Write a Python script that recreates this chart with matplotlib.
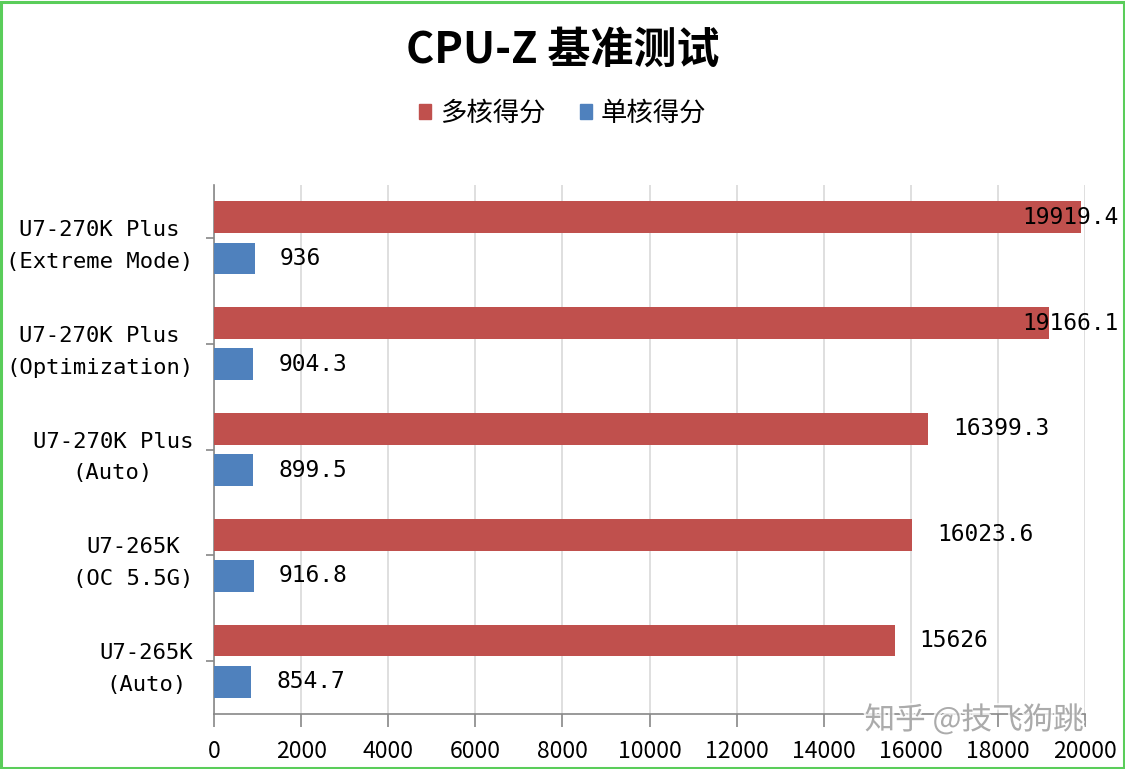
import matplotlib
matplotlib.use("Agg")
import matplotlib.pyplot as plt
import matplotlib.patheffects as pe
from matplotlib.patches import Patch, Rectangle
import numpy as np

categories = ["U7-270K Plus\n(Extreme Mode)", "U7-270K Plus\n(Optimization)",
              "U7-270K Plus\n(Auto)", "U7-265K\n(OC 5.5G)", "U7-265K\n(Auto)"]
multi_core = [19919.4, 19166.1, 16399.3, 16023.6, 15626]
single_core = [936, 904.3, 899.5, 916.8, 854.7]
multi_labels = ["19919.4", "19166.1", "16399.3", "16023.6", "15626"]
single_labels = ["936", "904.3", "899.5", "916.8", "854.7"]
series_names = ["多核得分", "单核得分"]
xticks = [0, 2000, 4000, 6000, 8000, 10000, 12000, 14000, 16000, 18000, 20000]
title = "CPU-Z 基准测试"
watermark = "知乎 @技飞狗跳"

RED = "#C0504D"
BLUE = "#4F81BD"
MONO = ["DejaVu Sans Mono", "Noto Sans CJK SC"]
SANS = ["Noto Sans CJK SC", "DejaVu Sans"]
plt.rcParams["font.family"] = SANS

W, H = 1125, 769
fig = plt.figure(figsize=(W / 100, H / 100), dpi=100)
ax = fig.add_axes([214 / W, 1 - 714 / H, (1085 - 214) / W, (714 - 185) / H])

y = np.arange(len(categories))
off = 0.195
bh = 0.30
ax.barh(y - off, multi_core, height=bh, color=RED, zorder=3)
ax.barh(y + off, single_core, height=bh, color=BLUE, zorder=3)

ax.set_xlim(0, 20000)
ax.set_ylim(len(categories) - 0.5, -0.5)
ax.set_xticks(xticks)
ax.set_xticklabels([str(t) for t in xticks], fontsize=16.5, family=SANS)
ax.set_yticks(y)
ax.set_yticklabels(categories, fontsize=16, family=MONO, multialignment="center",
                   linespacing=1.75)
ax.xaxis.grid(True, color="#D9D9D9", linewidth=1.2, zorder=0)
ax.set_axisbelow(True)
for s in ["top", "right"]:
    ax.spines[s].set_visible(False)
for s in ["left", "bottom"]:
    ax.spines[s].set_color("#888888")
    ax.spines[s].set_linewidth(1.2)
ax.tick_params(axis="x", direction="out", length=9, width=1.2, color="#888888", pad=10)
ax.tick_params(axis="y", direction="out", length=6, width=1.2, color="#888888", pad=9)

# value labels
pxu = ax.transData.transform((1000, 0))[0] - ax.transData.transform((0, 0))[0]
offset = 25 / pxu * 1000
texts = []
for i in range(len(categories)):
    t1 = ax.text(multi_core[i] + offset, y[i] - off, multi_labels[i], va="center",
                 ha="left", fontsize=16.5, family=MONO, zorder=4, clip_on=False)
    t2 = ax.text(single_core[i] + offset, y[i] + off, single_labels[i], va="center",
                 ha="left", fontsize=16.5, family=MONO, zorder=4, clip_on=False)
    texts += [t1, t2]
fig.canvas.draw()
renderer = fig.canvas.get_renderer()
limit_px = 1118
for t in texts:
    bb = t.get_window_extent(renderer)
    if bb.x1 > limit_px:
        xd = ax.transData.inverted().transform((limit_px, 0))[0]
        t.set_x(xd)
        t.set_ha("right")

fig.text(0.5, 1 - 50 / H, title, ha="center", va="center", fontsize=31,
         fontweight="bold", family=SANS)

handles = [Patch(color=RED), Patch(color=BLUE)]
fig.legend(handles, series_names, loc="center", bbox_to_anchor=(0.5, 1 - 113 / H),
           ncol=2, frameon=False, handlelength=0.45, handleheight=0.5,
           handletextpad=0.35, columnspacing=1.3, prop={"family": SANS, "size": 19})

fig.text(974 / W, 1 - 720 / H, watermark, ha="center", va="center", fontsize=22,
         color="#9A9A9A", alpha=0.8, family=SANS,
         path_effects=[pe.withStroke(linewidth=3, foreground="white")], zorder=10)

fig.patches.append(Rectangle((0.001, 0.001), 0.998, 0.997, transform=fig.transFigure,
                             fill=False, edgecolor="#5ACD5A", linewidth=2.2))

fig.savefig("out.png", dpi=100)
